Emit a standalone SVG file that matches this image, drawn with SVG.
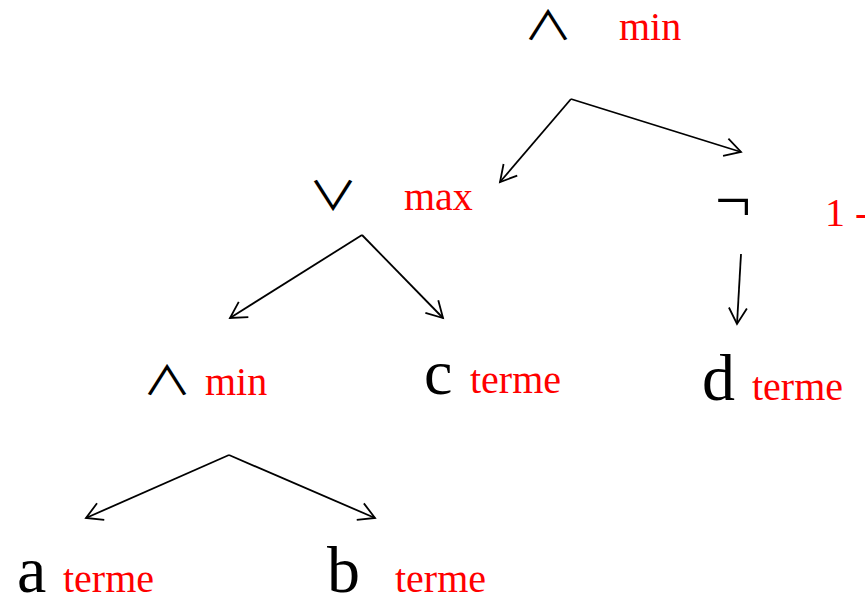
<svg xmlns="http://www.w3.org/2000/svg" width="865" height="597" viewBox="0 0 865 597">
<defs>
<style>
.op{font-family:"Noto Sans CJK JP","DejaVu Sans",sans-serif;font-size:40px;fill:#000;text-anchor:middle}
.neg{font-family:"Liberation Serif","Times New Roman",serif;font-size:64px;fill:#000}
.lbl{font-family:"Liberation Serif","Times New Roman",serif;font-size:40px;fill:#ff0000}
.var{font-family:"Liberation Serif","Times New Roman",serif;font-size:66px;fill:#000}
.edge{stroke:#000;stroke-width:1.8;fill:none;marker-end:url(#ah)}
</style>
<marker id="ah" markerUnits="userSpaceOnUse" markerWidth="24" markerHeight="24" refX="18" refY="10" orient="auto" viewBox="0 0 24 20">
<path d="M2,1 L18,10 L2,19" fill="none" stroke="#000" stroke-width="1.8"/>
</marker>
</defs>
<g id="connectors">
<line class="edge" x1="571" y1="99" x2="500" y2="182"/>
<line class="edge" x1="571" y1="99" x2="741" y2="152"/>
<line class="edge" x1="362" y1="235" x2="230" y2="318"/>
<line class="edge" x1="362" y1="235" x2="443" y2="318"/>
<line class="edge" x1="741" y1="254" x2="737" y2="324"/>
<line class="edge" x1="229" y1="455" x2="86" y2="518"/>
<line class="edge" x1="229" y1="455" x2="375" y2="518"/>
</g>
<g id="n-and-root"><text class="op" transform="translate(548,40) scale(1.24,1)">∧</text><text class="lbl" x="619" y="40">min</text></g>
<g id="n-or"><text class="op" transform="translate(333,210) scale(1.24,1)">∨</text><text class="lbl" x="404" y="210">max</text></g>
<g id="n-not"><text class="neg" x="715" y="222">¬</text><text class="lbl" x="825" y="226">1 -</text></g>
<g id="n-and"><text class="op" transform="translate(167,395) scale(1.24,1)">∧</text><text class="lbl" x="205" y="395">min</text></g>
<g id="n-c"><text class="var" x="424" y="394" style="font-size:64px">c</text><text class="lbl" x="470" y="393">terme</text></g>
<g id="n-d"><text class="var" x="702" y="400">d</text><text class="lbl" x="752" y="400">terme</text></g>
<g id="n-a"><text class="var" x="17" y="592">a</text><text class="lbl" x="63" y="592">terme</text></g>
<g id="n-b"><text class="var" x="327" y="592">b</text><text class="lbl" x="395" y="592">terme</text></g>
</svg>
